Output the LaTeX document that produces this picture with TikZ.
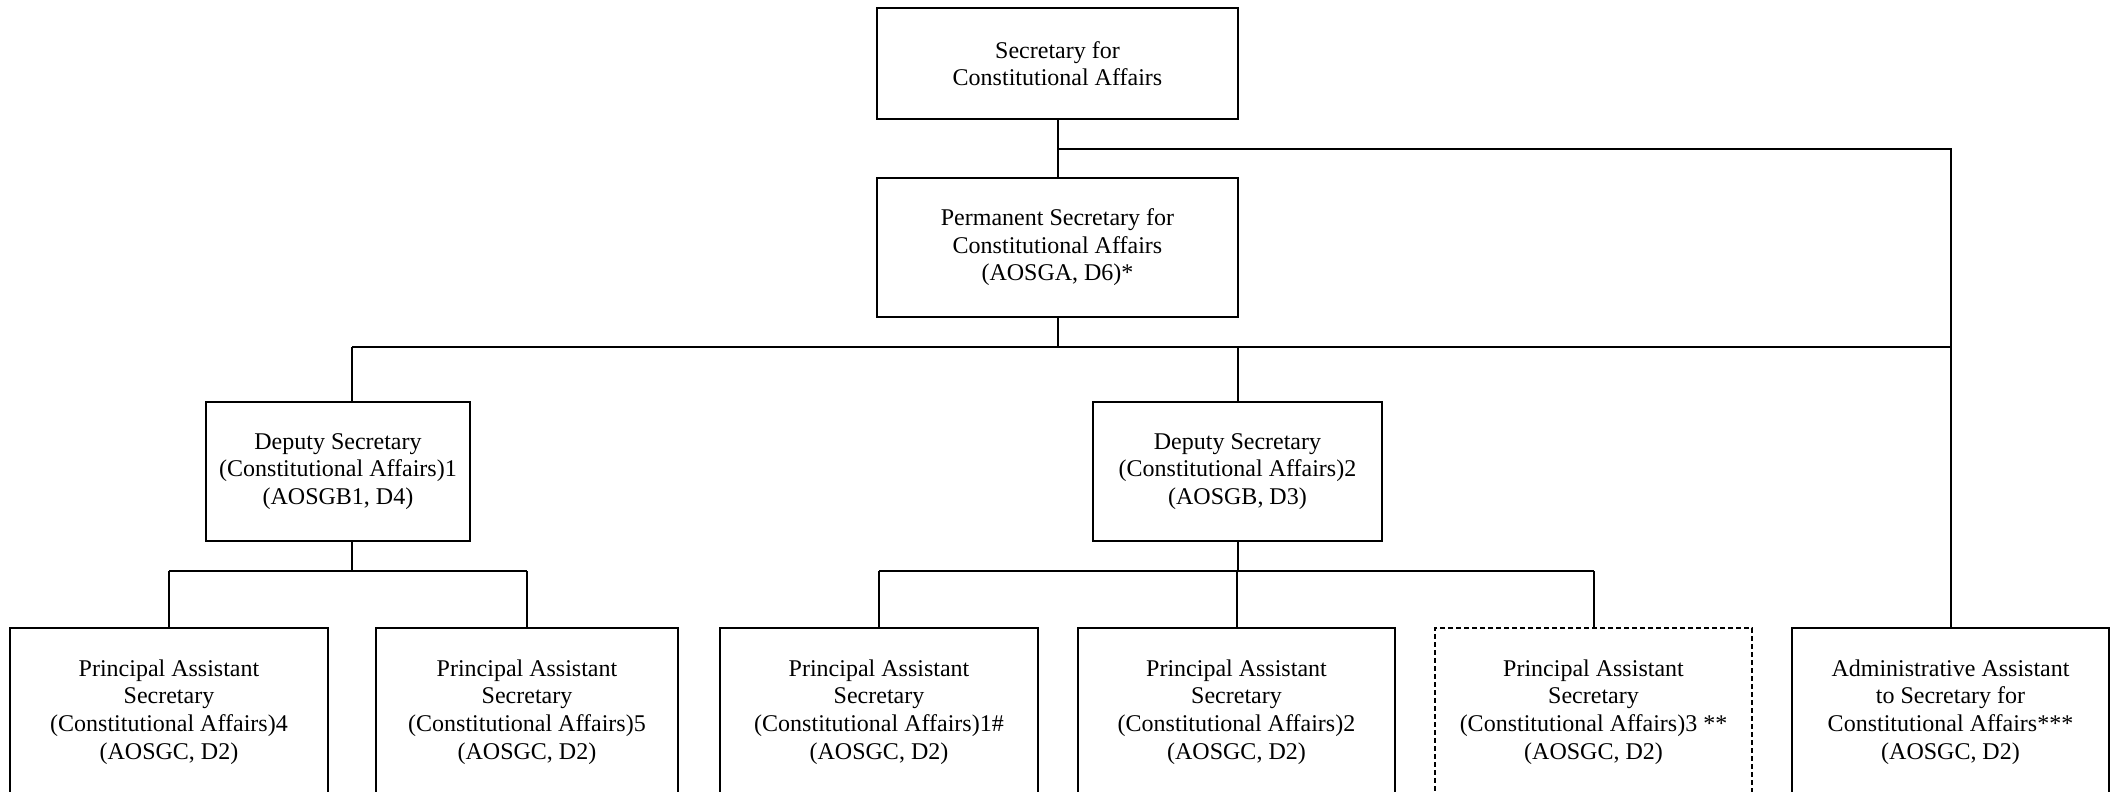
\documentclass[tikz,border=0pt]{standalone}
\usepackage{fontspec}
\setmainfont{Liberation Serif}
\begin{document}
\begin{tikzpicture}[x=0.5pt,y=-0.5pt,
  box/.style={draw, line width=1pt, align=center, inner sep=0pt,
    font=\fontsize{12}{13.8}\selectfont},
  dbox/.style={box, dash pattern=on 2.5pt off 1.5pt},
  conn/.style={line width=1pt}]
\useasboundingbox (0,0) rectangle (2116,792);
\clip (0,0) rectangle (2116,792);
% top levels
\node[box, minimum width=180.5pt, minimum height=55.5pt] (S) at (1057.5,63.5) {Secretary for\\Constitutional Affairs};
\node[box, minimum width=180.5pt, minimum height=69.5pt] (PS) at (1057.5,247.5) {Permanent Secretary for\\Constitutional Affairs\\(AOSGA, D6)*};
% deputies
\node[box, minimum width=132pt, minimum height=69.5pt] (DS1) at (338,471.5) {Deputy Secretary\\(Constitutional Affairs)1\\(AOSGB1, D4)};
\node[box, minimum width=144.5pt, minimum height=69.5pt] (DS2) at (1237.5,471.5) {Deputy Secretary\\(Constitutional Affairs)2\\(AOSGB, D3)};
% bottom row
\node[box, minimum width=159pt, minimum height=84pt] (P4) at (169,712) {Principal Assistant\\Secretary\\(Constitutional Affairs)4\\(AOSGC, D2)};
\node[box, minimum width=151pt, minimum height=84pt] (P5) at (527,712) {Principal Assistant\\Secretary\\(Constitutional Affairs)5\\(AOSGC, D2)};
\node[box, minimum width=159pt, minimum height=84pt] (P1) at (879,712) {Principal Assistant\\Secretary\\(Constitutional Affairs)1\#\\(AOSGC, D2)};
\node[box, minimum width=158.5pt, minimum height=84pt] (P2) at (1236.5,712) {Principal Assistant\\Secretary\\(Constitutional Affairs)2\\(AOSGC, D2)};
\node[dbox, minimum width=158.5pt, minimum height=84pt] (P3) at (1593.5,712) {Principal Assistant\\Secretary\\(Constitutional Affairs)3 **\\(AOSGC, D2)};
\node[box, minimum width=158.5pt, minimum height=84pt] (AA) at (1950.5,712) {Administrative Assistant\\to Secretary for\\Constitutional Affairs***\\(AOSGC, D2)};
% junction coordinates
\coordinate (j1) at (S.south |- 0,149);
\coordinate (j1r) at (AA.north |- 0,149);
\coordinate (bus) at (PS.south |- 0,347);
\coordinate (busL) at (352,347);
\coordinate (busR) at (AA.north |- 0,347);
\coordinate (d1top) at (352,0);
\coordinate (d1b) at (352,571);
\coordinate (d2b) at (DS2.south |- 0,571);
% connectors
\draw[conn] (S.south) -- (PS.north);
\draw[conn] (j1) -- (j1r) -- (AA.north);
\draw[conn] (PS.south) -- (bus);
\draw[conn] (busL) -- (busR);
\draw[conn] (busL) -- (busL |- DS1.north);
\draw[conn] (DS2.north |- busL) -- (DS2.north);
\draw[conn] (d1b |- DS1.south) -- (d1b);
\draw[conn] (P4.north |- d1b) -- (P5.north |- d1b);
\draw[conn] (P4.north |- d1b) -- (P4.north);
\draw[conn] (P5.north |- d1b) -- (P5.north);
\draw[conn] (DS2.south) -- (d2b);
\draw[conn] (P1.north |- d2b) -- (P3.north |- d2b);
\draw[conn] (P1.north |- d2b) -- (P1.north);
\draw[conn] (P2.north |- d2b) -- (P2.north);
\draw[conn] (P3.north |- d2b) -- (P3.north);
\end{tikzpicture}
\end{document}
